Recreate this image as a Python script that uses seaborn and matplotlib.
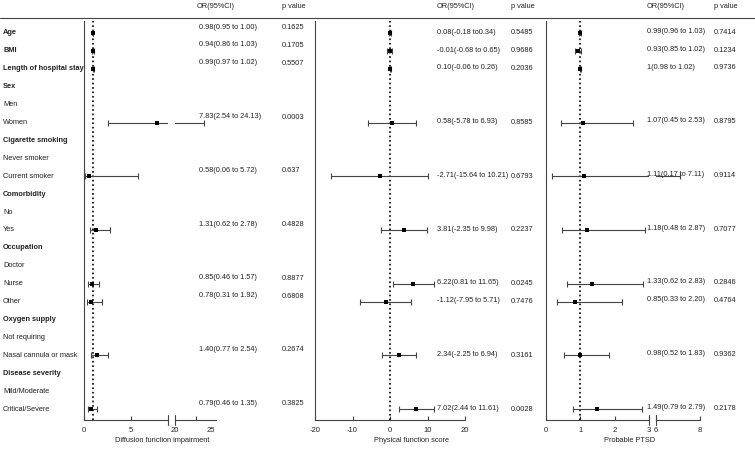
import matplotlib
matplotlib.use("Agg")
import matplotlib.pyplot as plt
import matplotlib.transforms as mtransforms
from matplotlib.lines import Line2D
import seaborn as sns
import pandas as pd

# rows of the forest plot (top to bottom)
row_labels = ["Age", "BMI", "Length of hospital stay", "Sex", "Men", "Women",
              "Cigarette smoking", "Never smoker", "Current smoker", "Comorbidity",
              "No", "Yes", "Occupation", "Doctor", "Nurse", "Other", "Oxygen supply",
              "Not requiring", "Nasal cannula or mask", "Disease severity",
              "Mild/Moderate", "Critical/Severe"]
bold_rows = ["Age", "BMI", "Length of hospital stay", "Sex", "Cigarette smoking",
             "Comorbidity", "Occupation", "Oxygen supply", "Disease severity"]
data_rows = ["Age", "BMI", "Length of hospital stay", "Women", "Current smoker",
             "Yes", "Nurse", "Other", "Nasal cannula or mask", "Critical/Severe"]

# Diffusion function impairment
diff_est = [0.98, 0.94, 0.99, 7.83, 0.58, 1.31, 0.85, 0.78, 1.40, 0.79]
diff_lo = [0.95, 0.86, 0.97, 2.54, 0.06, 0.62, 0.46, 0.31, 0.77, 0.46]
diff_hi = [1.00, 1.03, 1.02, 24.13, 5.72, 2.78, 1.57, 1.92, 2.54, 1.35]
diff_txt = ["0.98(0.95 to 1.00)", "0.94(0.86 to 1.03)", "0.99(0.97 to 1.02)",
            "7.83(2.54 to 24.13)", "0.58(0.06 to 5.72)", "1.31(0.62 to 2.78)",
            "0.85(0.46 to 1.57)", "0.78(0.31 to 1.92)", "1.40(0.77 to 2.54)",
            "0.79(0.46 to 1.35)"]
diff_p = ["0.1625", "0.1705", "0.5507", "0.0003", "0.637", "0.4828", "0.8877",
          "0.6808", "0.2674", "0.3825"]

# Physical function score
phys_est = [0.08, -0.01, 0.10, 0.58, -2.71, 3.81, 6.22, -1.12, 2.34, 7.02]
phys_lo = [-0.18, -0.68, -0.06, -5.78, -15.64, -2.35, 0.81, -7.95, -2.25, 2.44]
phys_hi = [0.34, 0.65, 0.26, 6.93, 10.21, 9.98, 11.65, 5.71, 6.94, 11.61]
phys_txt = ["0.08(-0.18 to0.34)", "-0.01(-0.68 to 0.65)", "0.10(-0.06 to 0.26)",
            "0.58(-5.78 to 6.93)", "-2.71(-15.64 to 10.21)", "3.81(-2.35 to 9.98)",
            "6.22(0.81 to 11.65)", "-1.12(-7.95 to 5.71)", "2.34(-2.25 to 6.94)",
            "7.02(2.44 to 11.61)"]
phys_p = ["0.5485", "0.9686", "0.2036", "0.8585", "0.6793", "0.2237", "0.0245",
          "0.7476", "0.3161", "0.0028"]

# Probable PTSD
ptsd_est = [0.99, 0.93, 1.00, 1.07, 1.11, 1.18, 1.33, 0.85, 0.98, 1.49]
ptsd_lo = [0.96, 0.85, 0.98, 0.45, 0.17, 0.48, 0.62, 0.33, 0.52, 0.79]
ptsd_hi = [1.03, 1.02, 1.02, 2.53, 7.11, 2.87, 2.83, 2.20, 1.83, 2.79]
ptsd_txt = ["0.99(0.96 to 1.03)", "0.93(0.85 to 1.02)", "1(0.98 to 1.02)",
            "1.07(0.45 to 2.53)", "1.11(0.17 to 7.11)", "1.18(0.48 to 2.87)",
            "1.33(0.62 to 2.83)", "0.85(0.33 to 2.20)", "0.98(0.52 to 1.83)",
            "1.49(0.79 to 2.79)"]
ptsd_p = ["0.7414", "0.1234", "0.9736", "0.8795", "0.9114", "0.7077", "0.2846",
          "0.4764", "0.9362", "0.2178"]

sns.set_style("ticks")
plt.rcParams['font.family'] = ['Liberation Sans', 'DejaVu Sans']
plt.rcParams['axes.unicode_minus'] = False

W, H = 755, 458
FS = 5.3
INK = "#222222"
LINE = "#444444"
fig = plt.figure(figsize=(W / 100, H / 100), dpi=100)

row_y = {lab: i for i, lab in enumerate(row_labels)}


def make_df(est, lo, hi):
    return pd.DataFrame({"row": [row_y[r] for r in data_rows],
                         "est": est, "lo": lo, "hi": hi})


def add_axes(x0, x1):
    ax = fig.add_axes([x0 / W, (H - 420) / H, (x1 - x0) / W, (420 - 21) / H])
    ax.set_facecolor("none")
    return ax


def break_mark(ax, x):
    ax.plot([x, x], [-0.013, 0.013], transform=ax.get_xaxis_transform(),
            color=LINE, lw=0.8, clip_on=False)


def forest(ax, df, xlim, ref, left=True):
    ax.errorbar(df["est"], df["row"], xerr=[df["est"] - df["lo"], df["hi"] - df["est"]],
                fmt="none", ecolor=LINE, elinewidth=0.8, capsize=2.2, capthick=0.8,
                zorder=2)
    sns.scatterplot(data=df, x="est", y="row", marker="s", color="black", s=7,
                    linewidth=0, ax=ax, zorder=3)
    if xlim[0] <= ref <= xlim[1]:
        ax.axvline(ref, ls=":", color="black", lw=1.2, zorder=1)
    ax.set_xlim(*xlim)
    ax.set_ylim(21.61, -0.67)
    ax.set_xlabel("")
    ax.set_ylabel("")
    ax.set_yticks([])
    sns.despine(ax=ax, left=not left)
    for s in ax.spines.values():
        s.set_color(LINE)
        s.set_linewidth(0.8)
    ax.tick_params(axis="x", direction="in", length=3, width=0.8, color=LINE,
                   labelsize=5.5, labelcolor=INK, pad=5)


def column_text(ax, xpx, labels, nudge):
    tr = mtransforms.blended_transform_factory(fig.transFigure, ax.transData)
    for lab, r in zip(labels, data_rows):
        fig.text(xpx / W, row_y[r] - nudge, lab, transform=tr, fontsize=FS,
                 color=INK, va="center", ha="left", zorder=5)


# panel 1 (broken axis 0-9 | 20-25)
df1 = make_df(diff_est, diff_lo, diff_hi)
ax1a = add_axes(84, 168)
forest(ax1a, df1, (0, 8.95), 1)
ax1a.set_xticks([0, 5])
break_mark(ax1a, 8.95)
ax1b = add_axes(175, 216)
forest(ax1b, df1, (20, 25.8), 1, left=False)
ax1b.set_xticks([20, 25])
ax1b.set_xticks([23], minor=True)
ax1b.tick_params(axis="x", which="major", length=0)
ax1b.tick_params(axis="x", which="minor", direction="in", length=3, width=0.8, color=LINE)
break_mark(ax1b, 20)

# panel 2
df2 = make_df(phys_est, phys_lo, phys_hi)
ax2 = add_axes(315, 465)
forest(ax2, df2, (-20, 20), 0)
ax2.set_xticks([-20, -10, 0, 10, 20])

# panel 3 (broken axis 0-3 | 6-8)
df3 = make_df(ptsd_est, ptsd_lo, ptsd_hi)
ax3a = add_axes(546, 649)
forest(ax3a, df3, (0, 3), 1)
ax3a.set_xticks([0, 1, 2, 3])
break_mark(ax3a, 3)
ax3b = add_axes(656, 700)
forest(ax3b, df3, (6, 8), 1, left=False)
ax3b.set_xticks([6, 8])
break_mark(ax3b, 6)

# row labels on the left
tr_lab = mtransforms.blended_transform_factory(fig.transFigure, ax1a.transData)
for lab in row_labels:
    fig.text(3 / W, row_y[lab], lab, transform=tr_lab, fontsize=FS, color=INK,
             va="center", ha="left",
             fontweight="bold" if lab in bold_rows else "normal")

# estimate / p value columns
column_text(ax1a, 199, diff_txt, 0.33)
column_text(ax1a, 282, diff_p, 0.3)
column_text(ax2, 437, phys_txt, 0.05)
column_text(ax2, 511, phys_p, 0.0)
column_text(ax3a, 647, ptsd_txt, 0.1)
column_text(ax3a, 714, ptsd_p, 0.05)

# header
hy = 1 - 7 / H
for x, t in [(197, "OR(95%CI)"), (282, "p value"), (437, "OR(95%CI)"),
             (511, "p value"), (647, "OR(95%CI)"), (714, "p value")]:
    fig.text(x / W, hy, t, fontsize=FS, color=INK, va="center", ha="left")
fig.add_artist(Line2D([0, 1], [1 - 18 / H, 1 - 18 / H], transform=fig.transFigure,
                      color=LINE, lw=0.8))

# axis titles
ty = 1 - 441 / H
fig.text(162 / W, ty, "Diffusion function impairment", fontsize=FS, color=INK, ha="center", va="center")
fig.text(411 / W, ty, "Physical function score", fontsize=FS, color=INK, ha="center", va="center")
fig.text(630 / W, ty, "Probable PTSD", fontsize=FS, color=INK, ha="center", va="center")

fig.savefig("out.png", dpi=100)
